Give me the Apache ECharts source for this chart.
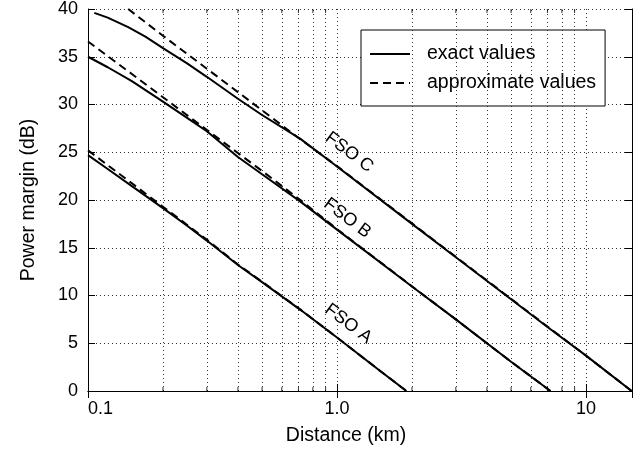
<!DOCTYPE html>
<html>
<head>
<meta charset="utf-8">
<script src="https://cdn.jsdelivr.net/npm/echarts@6/dist/echarts.min.js"></script>
<style>html,body{margin:0;padding:0;background:#fff}#c{width:642px;height:453px}</style>
</head>
<body>
<div id="c"></div>
<script>
// ---- data ----
const distAExact = [0.1, 0.12, 0.15, 0.2, 0.25, 0.3, 0.4, 0.5, 0.713, 1.0, 1.5, 1.9];
const marginAExact = [24.7, 23.25, 21.45, 19.15, 17.3, 15.75, 13.2, 11.4, 8.5, 5.6, 2.05, 0.0];
const distAApprox = [0.1, 0.15, 0.2, 0.3, 0.4, 0.5, 0.713, 1.0, 1.5, 1.9];
const marginAApprox = [25.2, 21.75, 19.3, 15.85, 13.25, 11.45, 8.52, 5.6, 2.05, 0.0];

const distBExact = [0.1, 0.12, 0.15, 0.2, 0.25, 0.3, 0.4, 0.5, 0.713, 1.0, 2.0, 3.0, 5.0, 7.2];
const marginBExact = [35.0, 33.9, 32.45, 30.3, 28.6, 27.2, 24.5, 22.7, 19.83, 16.9, 10.94, 7.5, 3.06, 0.0];
const distBApprox = [0.1, 0.15, 0.2, 0.3, 0.4, 0.5, 0.713, 1.0, 2.0, 3.0, 5.0, 7.2];
const marginBApprox = [36.6, 33.2, 30.76, 27.34, 24.92, 23.04, 20.0, 16.95, 10.96, 7.5, 3.07, 0.0];

const distCExact = [0.106, 0.12, 0.145, 0.17, 0.2, 0.25, 0.3, 0.4, 0.5, 0.713, 1.0, 2.0, 3.0, 5.0, 7.0, 10.0, 15.25];
const marginCExact = [39.6, 39.1, 38.1, 37.1, 35.9, 34.3, 32.9, 30.6, 28.9, 26.4, 23.5, 17.5, 14.0, 9.6, 6.7, 3.7, 0.0];
const distCApprox = [0.145, 0.2, 0.3, 0.4, 0.5, 0.7, 1.0, 2.0, 3.0, 5.0, 7.0, 10.0, 15.25];
const marginCApprox = [40.0, 37.2, 33.75, 31.3, 29.4, 26.5, 23.55, 17.55, 14.05, 9.65, 6.75, 3.7, 0.0];

const xTickValues = [0.1, 1, 10];
const xTickLabels = ['0.1', '1.0', '10'];
const xMinorValues = [0.2, 0.3, 0.4, 0.5, 0.6, 0.7, 0.8, 0.9, 2, 3, 4, 5, 6, 7, 8, 9];
const curveLabels = ['FSO A', 'FSO B', 'FSO C'];
const curveLabelAnchors = [[1.11, 7.05], [1.10, 18.1], [1.12, 25.0]];
const legendNames = ['exact values', 'approximate values'];

// ---- chart ----
const FONT = '"Liberation Sans", Arial, Helvetica, sans-serif';
const pairs = (xs, ys) => xs.map((x, i) => [x, ys[i]]);
const solid = { color: '#000', width: 2, type: 'solid' };
const dashed = { color: '#000', width: 2, type: [8, 5] };
const dotted = { color: '#333', width: 1, type: [1, 3] };

function lineSeries(name, data, style) {
  return {
    type: 'line', name: name, data: data, showSymbol: false, symbol: 'none',
    lineStyle: style, itemStyle: { color: '#000' }, smooth: false, silent: true,
    animation: false, z: 5
  };
}

const chart = echarts.init(document.getElementById('c'), null, { renderer: 'canvas' });

const minorBottom = xMinorValues.map(v => [v, 0]);
const minorTop = xMinorValues.map(v => [v, 40]);

const option = {
  animation: false,
  backgroundColor: '#fff',
  textStyle: { fontFamily: FONT },
  grid: { left: 88, right: 10, top: 9, bottom: 62, containLabel: false },
  legend: {
    data: legendNames,
    orient: 'vertical',
    left: 361, top: 30,
    padding: [14, 9, 13, 8],
    itemWidth: 40, itemHeight: 18, itemGap: 9,
    itemStyle: { color: 'rgba(0,0,0,0)', borderWidth: 0, opacity: 0 },
    borderColor: '#000', borderWidth: 1, backgroundColor: '#fff',
    textStyle: { fontSize: 19.5, color: '#000', fontFamily: FONT, padding: [0, 0, 0, 12] },
    selectedMode: false
  },
  xAxis: [{
    type: 'log', logBase: 10, min: 0.1, max: 15.3,
    name: 'Distance (km)', nameLocation: 'middle', nameGap: 35,
    nameTextStyle: { fontSize: 19.5, color: '#000', fontFamily: FONT, padding: [0, 28, 0, 0] },
    axisLine: { show: true, lineStyle: { color: '#000', width: 1 } },
    axisTick: { show: true, inside: true, length: 7, lineStyle: { color: '#000' } },
    axisLabel: {
      fontSize: 18, color: '#000', fontFamily: FONT, margin: 9,
      showMaxLabel: false, alignMinLabel: 'left',
      formatter: function (v) {
        for (let i = 0; i < xTickValues.length; i++) {
          if (Math.abs(v - xTickValues[i]) / xTickValues[i] < 1e-6) return xTickLabels[i];
        }
        return '';
      }
    },
    splitLine: { show: true, lineStyle: dotted }
  }, {
    type: 'log', logBase: 10, min: 0.1, max: 15.3, position: 'top',
    axisLine: { show: true, lineStyle: { color: '#000', width: 1 } },
    axisTick: { show: true, inside: true, length: 7, lineStyle: { color: '#000' } },
    axisLabel: { show: false }, splitLine: { show: false }
  }],
  yAxis: [{
    type: 'value', min: 0, max: 40, interval: 5,
    name: 'Power margin (dB)', nameLocation: 'middle', nameGap: 49,
    nameTextStyle: { fontSize: 19.5, color: '#000', fontFamily: FONT },
    axisLine: { show: true, lineStyle: { color: '#000', width: 1 } },
    axisTick: { show: true, inside: true, length: 7, lineStyle: { color: '#000' } },
    axisLabel: { fontSize: 18, color: '#000', fontFamily: FONT, margin: 10 },
    splitLine: { show: true, lineStyle: dotted }
  }, {
    type: 'value', min: 0, max: 40, interval: 5, position: 'right',
    axisLine: { show: true, lineStyle: { color: '#000', width: 1 } },
    axisTick: { show: true, inside: true, length: 7, lineStyle: { color: '#000' } },
    axisLabel: { show: false }, splitLine: { show: false }
  }],
  series: [
    Object.assign(lineSeries(legendNames[0], pairs(distAExact, marginAExact), solid), {
      markLine: {
        silent: true, symbol: ['none', 'none'], animation: false,
        label: { show: false },
        lineStyle: dotted,
        data: xMinorValues.map(v => ({ xAxis: v }))
      }
    }),
    lineSeries(legendNames[0], pairs(distBExact, marginBExact), solid),
    lineSeries(legendNames[0], pairs(distCExact, marginCExact), solid),
    lineSeries(legendNames[1], pairs(distAApprox, marginAApprox), dashed),
    lineSeries(legendNames[1], pairs(distBApprox, marginBApprox), dashed),
    lineSeries(legendNames[1], pairs(distCApprox, marginCApprox), dashed),
    {
      type: 'scatter', name: 'minorBottom', data: minorBottom, symbol: 'rect',
      symbolSize: [1, 4], symbolOffset: [0, -2], itemStyle: { color: '#000' },
      silent: true, animation: false, z: 6
    },
    {
      type: 'scatter', name: 'minorTop', data: minorTop, symbol: 'rect',
      symbolSize: [1, 4], symbolOffset: [0, 2], itemStyle: { color: '#000' },
      silent: true, animation: false, z: 6
    }
  ]
};
chart.setOption(option);

const graphics = curveLabels.map((t, i) => {
  const p = chart.convertToPixel({ xAxisIndex: 0, yAxisIndex: 0 }, curveLabelAnchors[i]);
  return {
    type: 'text', x: p[0], y: p[1], rotation: -37 * Math.PI / 180, z: 10,
    style: { text: t, fontSize: 18, fontFamily: FONT, fill: '#000', align: 'center', verticalAlign: 'middle' }
  };
});
chart.setOption({ graphic: graphics });
</script>
</body>
</html>
